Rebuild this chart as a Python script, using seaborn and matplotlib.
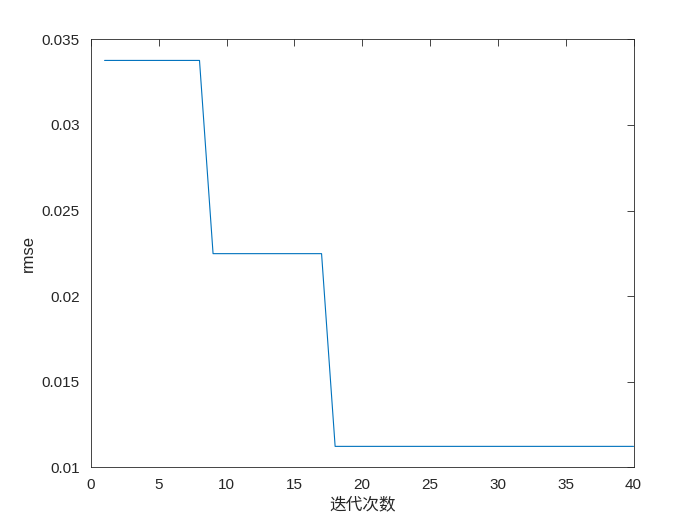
import matplotlib
matplotlib.use("Agg")
import matplotlib.pyplot as plt
import seaborn as sns
import pandas as pd

# iteration count and rmse per iteration
iterations = list(range(1, 41))
rmse = [0.03377] * 8 + [0.02248] * 9 + [0.01122] * 23

df = pd.DataFrame({"iter": iterations, "rmse": rmse})

sns.set_style("white")
plt.rcParams['font.family'] = ['Liberation Sans', 'Noto Sans CJK SC', 'DejaVu Sans']

fig = plt.figure(figsize=(7, 5.25), dpi=100)
ax = fig.add_axes([0.13, 0.11, 0.775, 0.815])

sns.lineplot(data=df, x="iter", y="rmse", color="#0072BD", linewidth=0.8, ax=ax)

ax.set_xlim(0, 40)
ax.set_ylim(0.01, 0.035)
ax.set_xticks([0, 5, 10, 15, 20, 25, 30, 35, 40])
ax.set_yticks([0.01, 0.015, 0.02, 0.025, 0.03, 0.035])
ax.set_yticklabels(["0.01", "0.015", "0.02", "0.025", "0.03", "0.035"])

ax.tick_params(direction="in", top=True, right=True, length=5, width=0.6,
               labelsize=11, colors="#262626", pad=8)
for s in ax.spines.values():
    s.set_linewidth(0.6)
    s.set_color("#262626")
    s.set_visible(True)

ax.set_xlabel("迭代次数", fontsize=12, color="#262626", labelpad=3,
              family=['Noto Sans CJK SC', 'DejaVu Sans'])
ax.set_ylabel("rmse", fontsize=12, color="#262626")

fig.savefig("out.png", dpi=100, facecolor="white")
